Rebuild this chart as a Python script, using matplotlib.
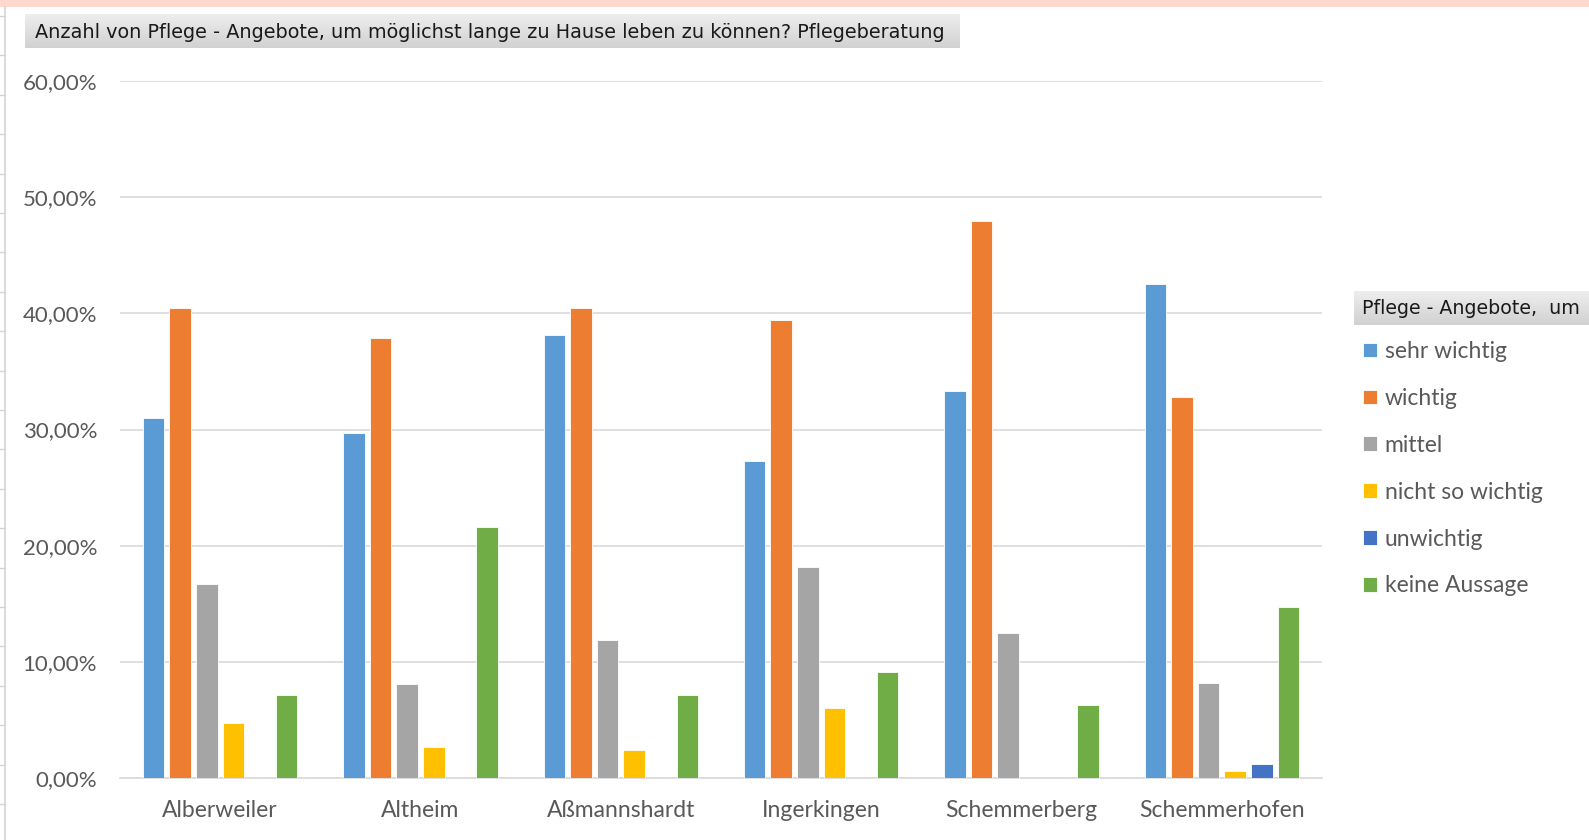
import numpy as np
import matplotlib
matplotlib.use("Agg")
import matplotlib.pyplot as plt
from matplotlib.patches import Rectangle
from matplotlib.lines import Line2D
from matplotlib.ticker import FuncFormatter

plt.rcParams['font.family'] = ['Lato', 'DejaVu Sans']

# data (percent)
orte = ['Alberweiler', 'Altheim', 'Aßmannshardt', 'Ingerkingen', 'Schemmerberg', 'Schemmerhofen']
sehr_wichtig = [30.95, 29.73, 38.10, 27.27, 33.33, 42.5]
wichtig = [40.48, 37.84, 40.48, 39.39, 47.92, 32.8]
mittel = [16.67, 8.11, 11.90, 18.18, 12.50, 8.2]
nicht_so_wichtig = [4.76, 2.70, 2.38, 6.06, 0.0, 0.6]
unwichtig = [0.0, 0.0, 0.0, 0.0, 0.0, 1.2]
keine_aussage = [7.14, 21.62, 7.14, 9.09, 6.25, 14.7]

serien = ['sehr wichtig', 'wichtig', 'mittel', 'nicht so wichtig', 'unwichtig', 'keine Aussage']
farben = ['#5B9BD5', '#ED7D31', '#A5A5A5', '#FFC000', '#4472C4', '#70AD47']
werte = [sehr_wichtig, wichtig, mittel, nicht_so_wichtig, unwichtig, keine_aussage]

W, H = 1589, 840
fig = plt.figure(figsize=(W / 100, H / 100), dpi=100)
ax = fig.add_axes([120 / W, 1 - 778 / H, (1322 - 120) / W, (778 - 81) / H])

x = np.arange(len(orte)) + 0.5
pitch = 0.133
bw = 0.107
handles = []
for i, (name, col, vals) in enumerate(zip(serien, farben, werte)):
    b = ax.bar(x + (i - 2.5) * pitch, vals, width=bw, color=col,
               edgecolor='white', linewidth=0.6, label=name, zorder=3)
    handles.append(b)

ax.set_xlim(0, len(orte))
ax.set_ylim(0, 60)
ax.set_yticks(np.arange(0, 61, 10))
ax.yaxis.set_major_formatter(FuncFormatter(lambda v, p: f"{v:.2f}%".replace('.', ',')))
ax.grid(axis='y', color='#D9D9D9', linewidth=1.2, zorder=0)
for s in ['top', 'right', 'left']:
    ax.spines[s].set_visible(False)
ax.spines['bottom'].set_color('#D9D9D9')
ax.spines['bottom'].set_linewidth(1.2)
ax.set_xticks(x)
ax.set_xticklabels(orte)
ax.tick_params(axis='both', length=0, colors='#595959', labelsize=16)
ax.tick_params(axis='x', labelsize=16.5, pad=16)
ax.tick_params(axis='y', pad=16.5)

# title box with soft grey gradient
grad = np.linspace(0.93, 0.82, 50).reshape(-1, 1)
tax = fig.add_axes([25 / W, 1 - 48 / H, (960 - 25) / W, 34 / H], zorder=0)
tax.imshow(grad, cmap='gray', vmin=0, vmax=1, aspect='auto', extent=[0, 1, 0, 1])
tax.axis('off')
fig.text(35 / W, 1 - 32 / H, 'Anzahl von Pflege - Angebote, um möglichst lange zu Hause leben zu können? Pflegeberatung',
         fontsize=13.9, color='#1a1a1a', va='center', ha='left', family=['DejaVu Sans'], zorder=5)

# legend title box
lax = fig.add_axes([1354 / W, 1 - 325 / H, (W - 1354) / W, 34 / H], zorder=0)
lax.imshow(grad, cmap='gray', vmin=0, vmax=1, aspect='auto', extent=[0, 1, 0, 1])
lax.axis('off')
fig.text(1362 / W, 1 - 308 / H, 'Pflege - Angebote,  um', fontsize=13.7,
         color='#1a1a1a', va='center', ha='left', family=['DejaVu Sans'], zorder=5)

fig.legend(handles=handles, labels=serien, loc='upper left',
           bbox_to_anchor=(1363 / W, 1 - 341 / H), frameon=False,
           fontsize=16.5, labelcolor='#595959', handlelength=0.6, handleheight=0.6,
           handletextpad=0.35, labelspacing=1.13, borderaxespad=0, borderpad=0)

# sheet decorations: pink band and left row lines
fig.patches.append(Rectangle((0, 1 - 7 / H), 1, 7 / H, transform=fig.transFigure,
                             facecolor='#FDD8CE', edgecolor='none'))
fig.lines.append(Line2D([5 / W, 5 / W], [0, 1 - 7 / H], transform=fig.transFigure,
                        color='#D4D4D4', linewidth=1.2))
for yy in np.arange(16, 840, 39.4):
    fig.lines.append(Line2D([0, 5 / W], [1 - yy / H, 1 - yy / H], transform=fig.transFigure,
                            color='#D4D4D4', linewidth=1))

fig.savefig('out.png', dpi=100, facecolor='white')
